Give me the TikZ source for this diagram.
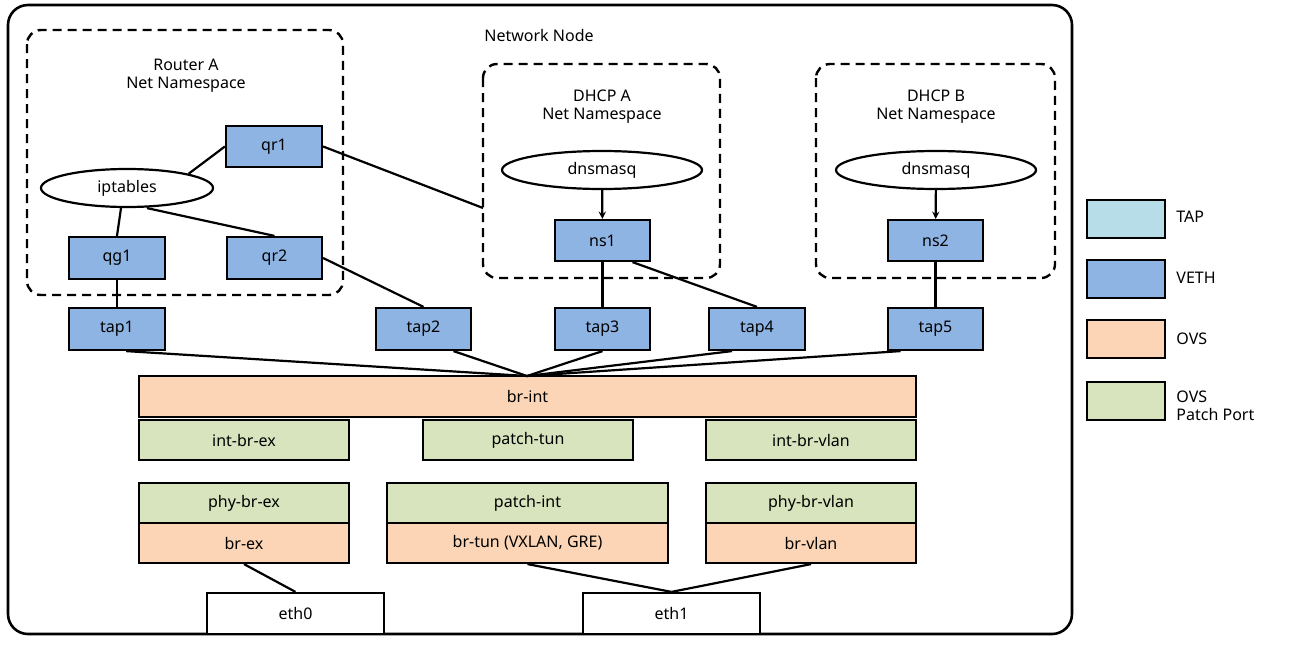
\documentclass[tikz,border=0pt]{standalone}
\usepackage{fontspec}
\usetikzlibrary{shapes.geometric}
\setmainfont{Noto Sans}
\definecolor{tapc}{HTML}{B7DEE8}
\definecolor{vethc}{HTML}{8EB4E3}
\definecolor{ovsc}{HTML}{FBD5B5}
\definecolor{patchc}{HTML}{D7E4BD}
\begin{document}
\begin{tikzpicture}[x=1pt,y=-1pt,line width=2.2pt,
  box/.style={draw,inner sep=0,font=\fontsize{16}{18}\selectfont},
  ns/.style={draw,dashed,dash pattern=on 9pt off 6pt,rounded corners=14pt,line width=2.4pt},
  el/.style={draw,ellipse,inner sep=0,font=\fontsize{16}{18}\selectfont},
  lbl/.style={font=\fontsize{16}{18}\selectfont,align=center}]
\useasboundingbox (0,0) rectangle (1305,645);
\draw[line width=2.6pt,rounded corners=20pt] (8,5) rectangle (1072,634);
\node[font=\fontsize{16}{18}\selectfont\bfseries] (title) at (539,35) {Network Node};
\draw[ns] (27,30) rectangle (343,295);
\draw[ns] (483,64) rectangle (720,278);
\draw[ns] (816,64) rectangle (1055,278);
\node[lbl] (ra) at (186,76) {Router A\\Net Namespace};
\node[lbl] (da) at (602,107) {DHCP A\\Net Namespace};
\node[lbl] (db) at (936,107) {DHCP B\\Net Namespace};
\node[box,fill=vethc,minimum width=96,minimum height=41] (qr1) at (274,146.5) {qr1};
\node[el,minimum width=172,minimum height=38] (ipt) at (127,188) {iptables};
\node[box,fill=vethc,minimum width=96,minimum height=42] (qg1) at (117,258) {qg1};
\node[box,fill=vethc,minimum width=95,minimum height=42] (qr2) at (274.5,258) {qr2};
\node[el,minimum width=200,minimum height=38] (dm1) at (602,170) {dnsmasq};
\node[el,minimum width=200,minimum height=38] (dm2) at (936,170) {dnsmasq};
\node[box,fill=vethc,minimum width=95,minimum height=41] (ns1) at (602.5,240.5) {ns1};
\node[box,fill=vethc,minimum width=95,minimum height=41] (ns2) at (935.5,240.5) {ns2};
\node[box,fill=vethc,minimum width=96,minimum height=42] (tap1) at (117,329) {tap1};
\node[box,fill=vethc,minimum width=95,minimum height=42] (tap2) at (423.5,329) {tap2};
\node[box,fill=vethc,minimum width=95,minimum height=42] (tap3) at (602.5,329) {tap3};
\node[box,fill=vethc,minimum width=96,minimum height=42] (tap4) at (757,329) {tap4};
\node[box,fill=vethc,minimum width=95,minimum height=42] (tap5) at (935.5,329) {tap5};
\node[box,fill=ovsc,minimum width=777,minimum height=41] (brint) at (527.5,396.5) {br-int};
\node[box,fill=patchc,minimum width=210,minimum height=40] (ibe) at (244,440) {int-br-ex};
\node[box,fill=patchc,minimum width=210,minimum height=40] (pt) at (528,440) {patch-tun};
\node[box,fill=patchc,minimum width=210,minimum height=40] (ibv) at (811,440) {int-br-vlan};
\node[box,fill=patchc,minimum width=210,minimum height=40] (pbe) at (244,503) {phy-br-ex};
\node[box,fill=ovsc,minimum width=210,minimum height=40] (brex) at (244,543) {br-ex};
\node[box,fill=patchc,minimum width=281,minimum height=40] (pi) at (527.5,503) {patch-int};
\node[box,fill=ovsc,minimum width=281,minimum height=40] (brtun) at (527.5,543) {br-tun (VXLAN, GRE)};
\node[box,fill=patchc,minimum width=210,minimum height=40] (pbv) at (811,503) {phy-br-vlan};
\node[box,fill=ovsc,minimum width=210,minimum height=40] (brvlan) at (811,543) {br-vlan};
\node[box,fill=white,minimum width=177,minimum height=41] (eth0) at (295.5,613.5) {eth0};
\node[box,fill=white,minimum width=177,minimum height=41] (eth1) at (671.5,613.5) {eth1};
\coordinate (hub) at (527,376);
\coordinate (nsa) at (483,208);
% legend
\node[box,fill=tapc,minimum width=78,minimum height=38] (lt) at (1126,219) {};
\node[box,fill=vethc,minimum width=78,minimum height=38] (lv) at (1126,279) {};
\node[box,fill=ovsc,minimum width=78,minimum height=38] (lo) at (1126,339) {};
\node[box,fill=patchc,minimum width=78,minimum height=38] (lp) at (1126,401) {};
\node[lbl,anchor=west] (ltt) at (1172,217) {TAP};
\node[lbl,anchor=west] (lvt) at (1172,278) {VETH};
\node[lbl,anchor=west] (lot) at (1172,339) {OVS};
\node[lbl,anchor=north west,align=left] (lpt) at (1172,386) {OVS\\Patch Port};
% connectors
\draw (qr1.west) -- (ipt.north east);
\draw ([xshift=-6pt]ipt.south) -- (qg1.north);
\draw ([xshift=20pt]ipt.south) -- (qr2.north);
\draw (qr1.east) -- (nsa);
\draw (qr2.east) -- (tap2.north);
\draw (qg1) -- (tap1);
\draw[-stealth] (dm1) -- (ns1);
\draw[-stealth] (dm2) -- (ns2);
\draw (ns1) -- (tap3);
\draw (ns2) -- (tap5);
\draw ([xshift=30pt]ns1.south) -- (tap4.north);
\draw ([xshift=-40pt]tap1.south east) -- (hub);
\draw ([xshift=30pt]tap2.south) -- (hub);
\draw (tap3.south) -- (hub);
\draw ([xshift=-25pt]tap4.south) -- (hub);
\draw ([xshift=-35pt]tap5.south) -- (hub);
\draw (brex.south) -- (eth0.north);
\draw (brtun.south) -- (eth1.north);
\draw (brvlan.south) -- (eth1.north);
\end{tikzpicture}
\end{document}
